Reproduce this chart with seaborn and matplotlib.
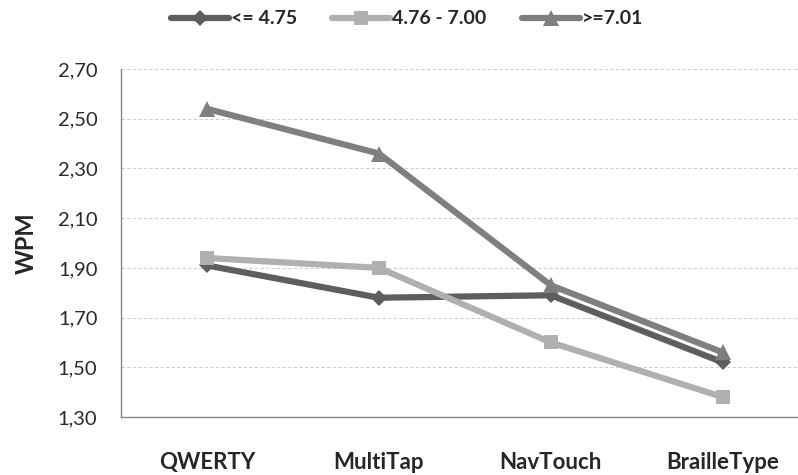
import seaborn as sns
import matplotlib.pyplot as plt
import pandas as pd

# Chart data
methods = ["QWERTY", "MultiTap", "NavTouch", "BrailleType"]
series_names = ["<= 4.75", "4.76 - 7.00", ">=7.01"]
low_wpm = [1.91, 1.78, 1.79, 1.52]
mid_wpm = [1.94, 1.90, 1.60, 1.38]
high_wpm = [2.54, 2.36, 1.83, 1.56]
y_ticks = [1.30, 1.50, 1.70, 1.90, 2.10, 2.30, 2.50, 2.70]

sns.set_style("white")
plt.rcParams['font.family'] = ['Lato', 'DejaVu Sans']

# Build long-form table
rows = []
for name, vals in zip(series_names, [low_wpm, mid_wpm, high_wpm]):
    for m, v in zip(methods, vals):
        rows.append({"Method": m, "Group": name, "WPM": v})
df = pd.DataFrame(rows)

colors = {"<= 4.75": "#5e5e5e", "4.76 - 7.00": "#b0b0b0", ">=7.01": "#7f7f7f"}
markers = {"<= 4.75": "D", "4.76 - 7.00": "s", ">=7.01": "^"}
msizes = {"<= 4.75": 8, "4.76 - 7.00": 10, ">=7.01": 11}

fig = plt.figure(figsize=(7.98, 4.75), dpi=100)
ax = fig.add_axes([0.1516, 0.122, 0.862, 0.7326])

for name in series_names:
    subset = df[df["Group"] == name]
    sns.lineplot(data=subset, x="Method", y="WPM", ax=ax, color=colors[name],
                 linewidth=4.5, marker=markers[name], markersize=msizes[name],
                 markeredgewidth=0, label=name, sort=False)

ax.set_xlim(-0.5, 3.5)
ax.set_ylim(1.30, 2.70)
ax.set_yticks(y_ticks)
ax.set_yticklabels([f"{t:.2f}".replace(".", ",") for t in y_ticks], fontsize=14.5, color="#2a2a2a")
ax.set_xticks([-0.5, 0.5, 1.5, 2.5])
ax.set_xticks(range(len(methods)), minor=True)
ax.set_xticklabels([])
ax.set_xticklabels(methods, minor=True, fontsize=16, fontweight="bold")
ax.tick_params(axis="x", which="major", direction="out", length=6, color="#888888", width=1)
ax.tick_params(axis="x", which="minor", length=0, pad=25)
ax.tick_params(axis="y", direction="out", length=6, color="#888888", width=1, pad=11)

ax.grid(axis="y", linestyle=(0, (3, 2)), color="#cfcfcf", linewidth=0.8)
ax.set_axisbelow(True)
for side in ["top", "right"]:
    ax.spines[side].set_visible(False)
for side in ["left", "bottom"]:
    ax.spines[side].set_color("#888888")
    ax.spines[side].set_linewidth(1)

ax.set_xlabel("")
ax.set_ylabel("WPM", fontsize=17, fontweight="bold", labelpad=14)

handles, labels = ax.get_legend_handles_labels()
ax.legend_.remove()
fig.legend(handles, labels, loc="upper center", bbox_to_anchor=(0.51, 1.015), ncol=3,
           frameon=False, prop={"weight": "bold", "size": 14}, handlelength=3.0,
           handletextpad=0.1, columnspacing=1.8)

plt.savefig("out.png", dpi=100)
plt.close(fig)
